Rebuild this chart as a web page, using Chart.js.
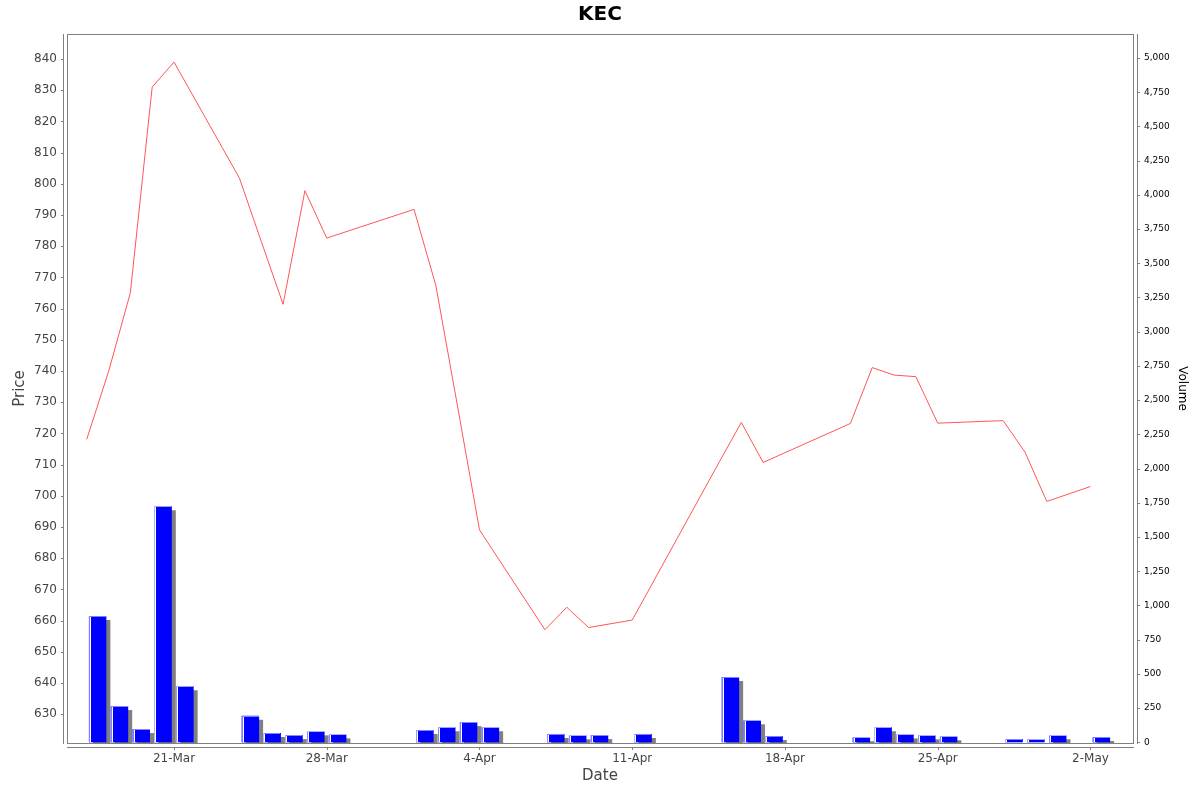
<!DOCTYPE html>
<html>
<head>
<meta charset="utf-8">
<title>KEC</title>
<script src="https://cdn.jsdelivr.net/npm/chart.js@4.4.1/dist/chart.umd.min.js"></script>
<style>
  html, body { margin: 0; padding: 0; background: #fff; }
  canvas { display: block; }
</style>
</head>
<body>
<canvas id="kecChart" width="1200" height="792"></canvas>
<script>
// Trading days (2025) with closing price and traded volume
const dates = [
  '2025-03-17', '2025-03-18', '2025-03-19', '2025-03-20', '2025-03-21',
  '2025-03-24', '2025-03-25', '2025-03-26', '2025-03-27', '2025-03-28',
  '2025-04-01', '2025-04-02', '2025-04-03', '2025-04-04',
  '2025-04-07', '2025-04-08', '2025-04-09', '2025-04-11',
  '2025-04-15', '2025-04-16', '2025-04-17',
  '2025-04-21', '2025-04-22', '2025-04-23', '2025-04-24', '2025-04-25',
  '2025-04-28', '2025-04-29', '2025-04-30', '2025-05-02'
];
const closePrice = [
  718.1, 739.8, 765.1, 831.0, 839.0,
  801.8, 781.5, 761.4, 797.8, 782.6,
  791.8, 767.4, 728.5, 689.1,
  657.1, 664.3, 657.8, 660.2,
  711.0, 723.5, 710.7,
  723.2, 741.1, 738.7, 738.2, 723.3,
  724.1, 714.0, 698.2, 703.0
];
const volume = [
  923, 265, 97, 1725, 409,
  194, 68, 53, 80, 58,
  90, 110, 148, 110,
  61, 51, 53, 61,
  477, 161, 46,
  37, 110, 58, 51, 44,
  24, 22, 51, 39
];

// Axis ticks
const dateTicks = ['2025-03-21', '2025-03-28', '2025-04-04', '2025-04-11', '2025-04-18', '2025-04-25', '2025-05-02'];
const monthNames = ['Jan', 'Feb', 'Mar', 'Apr', 'May', 'Jun', 'Jul', 'Aug', 'Sep', 'Oct', 'Nov', 'Dec'];
const priceTickMin = 630, priceTickMax = 840, priceTickStep = 10;
const volumeTickMin = 0, volumeTickMax = 5000, volumeTickStep = 250;

// Visible ranges of the three axes
const dayRange = [-0.904, 47.95];
const priceRange = [620.8, 848.0];
const volumeRange = [-5, 5175];

const DAY_MS = 86400000;
const firstDay = Date.parse(dates[0]);
function dayOf(iso) { return Math.round((Date.parse(iso) - firstDay) / DAY_MS); }
function dayLabel(iso) {
  const d = new Date(iso + 'T00:00:00Z');
  return d.getUTCDate() + '-' + monthNames[d.getUTCMonth()];
}
const tickLabelByDay = {};
dateTicks.forEach(function (d) { tickLabelByDay[dayOf(d)] = dayLabel(d); });

function stepTicks(from, to, step) {
  const out = [];
  for (let v = from; v <= to + 1e-9; v += step) out.push({value: v});
  return out;
}

Chart.defaults.font.family = "'DejaVu Sans', 'Liberation Sans', sans-serif";

/** Grey drop shadow under the volume bars, plus the light left edge of each bar */
const barShading = {
  id: 'barShading',
  beforeDatasetDraw(chart, args) {
    if (args.meta.type !== 'bar') return;
    const ctx = chart.ctx;
    ctx.save();
    ctx.shadowColor = '#808080';
    ctx.shadowOffsetX = 4;
    ctx.shadowOffsetY = 4;
    ctx.shadowBlur = 0;
  },
  afterDatasetDraw(chart, args) {
    if (args.meta.type !== 'bar') return;
    const ctx = chart.ctx;
    ctx.restore();
    ctx.save();
    args.meta.data.forEach(function (bar) {
      const p = bar.getProps(['x', 'y', 'base', 'width'], true);
      const left = Math.round(p.x - p.width / 2);
      const top = Math.round(p.y);
      const h = Math.round(p.base) - top;
      ctx.fillStyle = 'rgba(255,255,255,0.5)';
      ctx.fillRect(left, top, 1, h);
      ctx.fillRect(left + 1, top, Math.round(p.width) - 1, 1);
      ctx.fillStyle = '#ffffff';
      ctx.fillRect(left + 1, top + 1, 1, h - 1);
    });
    ctx.restore();
  }
};

/** Plot outline and the three axis lines, set 4px away from the plot */
const axisFrame = {
  id: 'axisFrame',
  afterDatasetsDraw(chart) {
    const {ctx, chartArea: a, scales} = chart;
    const L = Math.round(a.left), R = Math.round(a.right);
    const T = Math.round(a.top), B = Math.round(a.bottom);
    ctx.save();
    ctx.strokeStyle = '#808080';
    ctx.lineWidth = 1;
    ctx.strokeRect(L + 0.5, T + 0.5, R - L, B - T);

    ctx.beginPath();
    // left (price) axis
    ctx.moveTo(L - 3.5, T);
    ctx.lineTo(L - 3.5, B + 1);
    scales.price.ticks.forEach(function (t) {
      const y = Math.round(scales.price.getPixelForValue(t.value)) + 0.5;
      ctx.moveTo(L - 6, y);
      ctx.lineTo(L - 3, y);
    });
    // right (volume) axis
    ctx.moveTo(R + 4.5, T);
    ctx.lineTo(R + 4.5, B + 1);
    scales.vol.ticks.forEach(function (t) {
      const y = Math.round(scales.vol.getPixelForValue(t.value)) + 0.5;
      ctx.moveTo(R + 5, y);
      ctx.lineTo(R + 7, y);
    });
    // bottom (date) axis
    ctx.moveTo(L, B + 4.5);
    ctx.lineTo(R + 1, B + 4.5);
    scales.x.ticks.forEach(function (t) {
      const x = Math.round(scales.x.getPixelForValue(t.value)) + 0.5;
      ctx.moveTo(x, B + 5);
      ctx.lineTo(x, B + 7);
    });
    ctx.stroke();
    ctx.restore();
  }
};

new Chart(document.getElementById('kecChart'), {
  type: 'bar',
  data: {
    datasets: [
      {
        type: 'line',
        label: 'Price',
        yAxisID: 'price',
        data: dates.map(function (d, i) { return {x: dayOf(d), y: closePrice[i]}; }),
        borderColor: '#ff5555',
        borderWidth: 1,
        pointRadius: 0,
        tension: 0,
        order: 0
      },
      {
        type: 'bar',
        label: 'Volume',
        yAxisID: 'vol',
        // each bar covers its whole trading day, so it sits at the middle of the day
        data: dates.map(function (d, i) { return {x: dayOf(d) + 0.5, y: volume[i]}; }),
        backgroundColor: '#0000ff',
        borderWidth: 0,
        barPercentage: 0.8,
        categoryPercentage: 1,
        grouped: false,
        order: 1
      }
    ]
  },
  options: {
    responsive: false,
    animation: false,
    events: [],
    layout: {padding: 0},
    plugins: {
      legend: {display: false},
      tooltip: {enabled: false},
      title: {
        display: true,
        text: 'KEC',
        color: '#000000',
        font: {size: 20, weight: 'bold'},
        padding: {top: 3, bottom: 7}
      }
    },
    scales: {
      x: {
        type: 'linear',
        position: 'bottom',
        offset: false,
        min: dayRange[0],
        max: dayRange[1],
        grid: {display: false, drawTicks: false},
        border: {display: false},
        afterBuildTicks: function (scale) {
          scale.ticks = dateTicks.map(function (d) { return {value: dayOf(d)}; });
        },
        afterFit: function (scale) { scale.height = 49; },
        ticks: {
          autoSkip: false,
          maxRotation: 0,
          padding: 9,
          color: '#444444',
          font: {size: 12},
          callback: function (v) { return tickLabelByDay[v] || ''; }
        },
        title: {
          display: true,
          text: 'Date',
          color: '#444444',
          font: {size: 15},
          padding: {top: 0, bottom: 7}
        }
      },
      price: {
        type: 'linear',
        position: 'left',
        min: priceRange[0],
        max: priceRange[1],
        grid: {display: false, drawTicks: false},
        border: {display: false},
        afterBuildTicks: function (scale) {
          scale.ticks = stepTicks(priceTickMin, priceTickMax, priceTickStep);
        },
        afterFit: function (scale) { scale.width = 67; },
        ticks: {
          padding: 10,
          color: '#444444',
          font: {size: 12},
          callback: function (v) { return String(v); }
        },
        title: {
          display: true,
          text: 'Price',
          color: '#444444',
          font: {size: 15},
          padding: {top: 11, bottom: 0}
        }
      },
      vol: {
        type: 'linear',
        position: 'right',
        min: volumeRange[0],
        max: volumeRange[1],
        grid: {display: false, drawTicks: false},
        border: {display: false},
        afterBuildTicks: function (scale) {
          scale.ticks = stepTicks(volumeTickMin, volumeTickMax, volumeTickStep);
        },
        afterFit: function (scale) { scale.width = 67; },
        ticks: {
          padding: 11,
          color: '#000000',
          font: {size: 9},
          callback: function (v) { return v.toLocaleString('en-US'); }
        },
        title: {
          display: true,
          text: 'Volume',
          color: '#000000',
          font: {size: 12},
          padding: {top: 11, bottom: 0}
        }
      }
    }
  },
  plugins: [barShading, axisFrame]
});
</script>
</body>
</html>
